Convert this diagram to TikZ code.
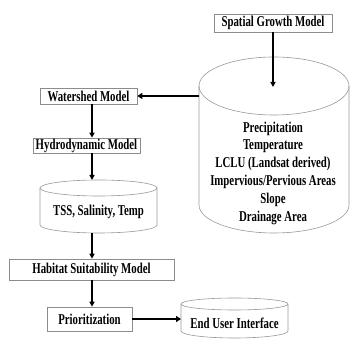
\documentclass[tikz,border=0pt]{standalone}
\usepackage{fontspec}
\setmainfont{Liberation Serif}[FakeStretch=0.72]
\usetikzlibrary{arrows.meta}
\newcommand\dfont{\fontsize{15}{17.8}\selectfont\bfseries}
\begin{document}
\begin{tikzpicture}[x=1pt,y=1pt,
  box/.style={draw=black!45, line width=0.6pt, fill=white, inner sep=0pt, font=\dfont},
  lbl/.style={inner sep=0pt, font=\dfont, align=center},
  arr/.style={-{Triangle[length=5pt,width=5pt]}, line width=1.4pt},
  bigarr/.style={-{Triangle[length=5pt,width=6pt]}, line width=2.4pt},
  cyl/.style={draw=black!40, line width=0.6pt}]
\useasboundingbox (0,0) rectangle (350,344);
\fill[white] (0,0) rectangle (350,344);
% axis for vertical arrows
\coordinate (ax) at (92,0);
% Spatial Growth Model
\node[box, minimum width=118, minimum height=18] (sg) at (273,321) {Spatial Growth Model};
% big cylinder
\draw[cyl] (199,258) -- (199,139) arc[start angle=180, end angle=360, x radius=75, y radius=28] -- (349,258);
\draw[cyl] (274,258) ellipse[x radius=75, y radius=29];
\coordinate (bigtop) at (273,257);
\coordinate (bigleft) at (199,248);
\node[lbl] (bigtxt) at (273,171) {Precipitation\\Temperature\\LCLU (Landsat derived)\\Impervious/Pervious Areas\\Slope\\Drainage Area};
% Watershed
\node[box, minimum width=97, minimum height=16] (ws) at (88.5,248) {Watershed Model};
% Hydrodynamic
\node[box, minimum width=107, minimum height=15] (hy) at (86.5,198.5) {Hydrodynamic Model};
% TSS cylinder
\draw[cyl] (40,156) -- (40,119) arc[start angle=180, end angle=360, x radius=58.5, y radius=8] -- (157,156);
\draw[cyl] (98.5,156) ellipse[x radius=58.5, y radius=8];
\coordinate (tsstop) at (92,164);
\coordinate (tssbot) at (92,111);
\node[lbl] (tss) at (98.5,132) {TSS, Salinity, Temp};
% Habitat
\node[box, minimum width=165, minimum height=21] (hab) at (91.5,74.5) {Habitat Suitability Model};
% Prioritization
\node[box, minimum width=85, minimum height=24] (pr) at (89.5,25) {Prioritization};
% End user cylinder
\draw[cyl] (181,40) -- (181,13) arc[start angle=180, end angle=360, x radius=53.5, y radius=7] -- (288,40);
\draw[cyl] (234.5,40) ellipse[x radius=53.5, y radius=6];
\coordinate (euleft) at (181,25);
\node[lbl] (eu) at (234.5,21) {End User Interface};
% connectors
\draw[arr] (sg.south) -- (bigtop);
\draw[bigarr] (bigleft) -- (ws.east);
\draw[arr] (ws.south -| ax) -- (hy.north -| ax);
\draw[arr] (hy.south -| ax) -- (tsstop);
\draw[arr] (tssbot) -- (hab.north -| ax);
\draw[arr] (hab.south -| ax) -- (pr.north -| ax);
\draw[bigarr] (pr.east) -- (euleft);
\end{tikzpicture}
\end{document}
